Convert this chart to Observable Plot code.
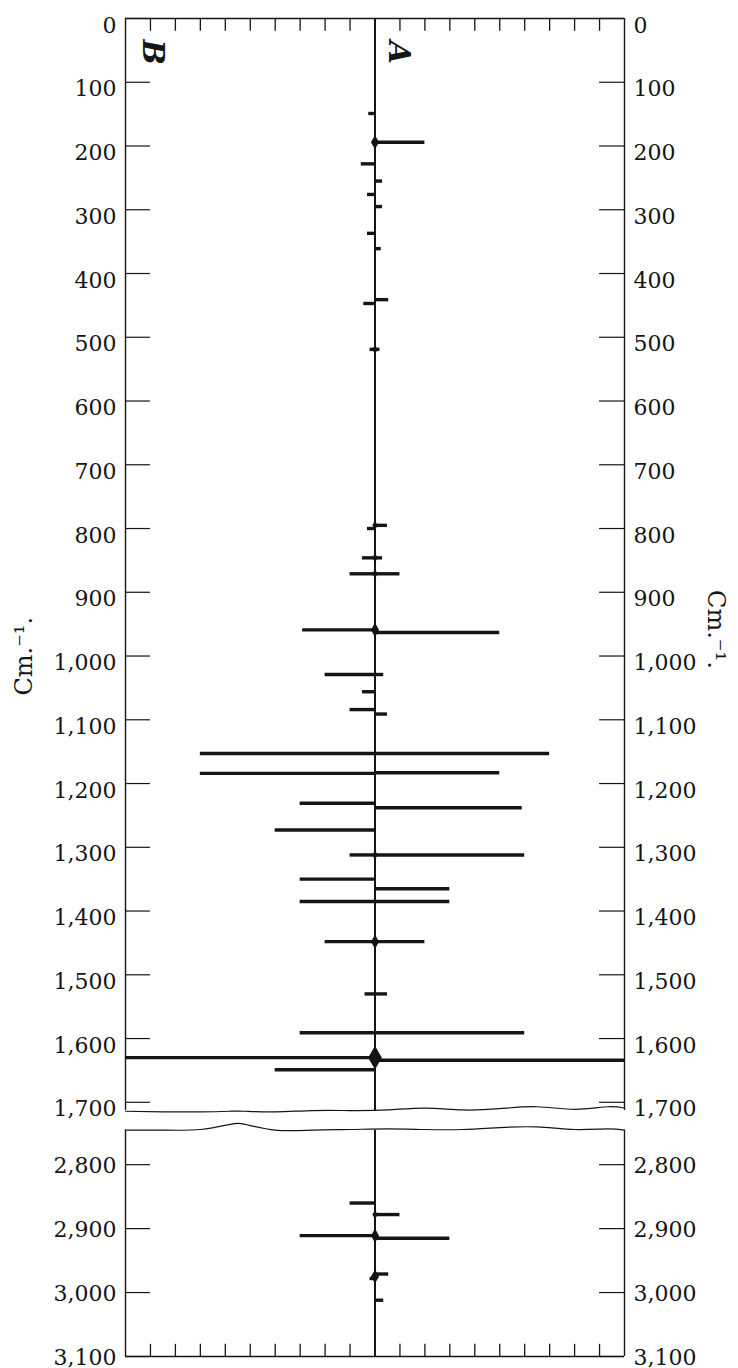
<!DOCTYPE html>
<html><head><meta charset="utf-8">
<script src="https://cdn.jsdelivr.net/npm/d3@7"></script>
<script src="https://cdn.jsdelivr.net/npm/@observablehq/plot@0.6"></script>
<style>
html,body{margin:0;padding:0;background:#fff;}
#chart svg{display:block;}
</style></head><body><div id="chart"></div>
<script>
// Series B (drawn to the left of the centre line)
const bWavenumbers = [149, 228, 276, 337, 447, 519, 800, 846, 871, 959, 1029, 1056, 1084, 1153, 1184, 1231, 1273, 1312, 1350, 1385, 1448, 1530, 1591, 1630, 1649, 2860, 2911, 2978];
const bIntensity   = [0.25, 0.55, 0.3, 0.3, 0.45, 0.2, 0.3, 0.5, 1.0, 2.9, 2.0, 0.5, 1.0, 7.0, 7.0, 3.0, 4.0, 1.0, 3.0, 3.0, 2.0, 0.4, 3.0, 10, 4.0, 1.0, 3.0, 0.2];
// Series A (drawn to the right of the centre line)
const aWavenumbers = [194, 255, 295, 361, 441, 519, 795, 846, 871, 963, 1029, 1091, 1153, 1183, 1238, 1312, 1365, 1385, 1448, 1530, 1591, 1634, 2878, 2915, 2971, 3012];
const aIntensity   = [2.0, 0.3, 0.3, 0.25, 0.55, 0.2, 0.5, 0.3, 1.0, 5.0, 0.35, 0.5, 7.0, 5.0, 5.9, 6.0, 3.0, 3.0, 2.0, 0.5, 6.0, 10, 1.0, 3.0, 0.55, 0.35];
// Lines marked with a diamond at the centre, and its weight
const diamondWavenumbers = [194, 519, 795, 846, 871, 959, 1312, 1448, 1630, 2878, 2911, 2975];
const diamondLevel       = [2, 1, 1, 1, 1, 2, 1, 2, 4, 1, 2, 2];
// Axis ticks
const upperTicks = [0, 100, 200, 300, 400, 500, 600, 700, 800, 900, 1000, 1100, 1200, 1300, 1400, 1500, 1600, 1700];
const lowerTicks = [2800, 2900, 3000, 3100];
const intensityTicks = [-9, -8, -7, -6, -5, -4, -3, -2, -1, 1, 2, 3, 4, 5, 6, 7, 8, 9];
const sideLabels = ["B", "A"];
const axisTitle = "Cm.\u207B\u00B9.";
// Broken-axis edges (wavy cut lines)
const breakX     = [-10, -8.5, -7, -5.8, -5.2, -4, -2.5, -1, 0.5, 2, 3.5, 5, 6.5, 8, 9.3, 10];
const upperBreak = [1714, 1715, 1715, 1714, 1714, 1715, 1713, 1713, 1712, 1709, 1712, 1710, 1707, 1711, 1707, 1709];
const lowerBreak = [2746, 2746, 2745, 2737, 2737, 2746, 2746, 2745, 2744, 2745, 2745, 2742, 2741, 2745, 2744, 2746];

const font = "'DejaVu Serif', serif";
const ink = "#151515";
const fmt = d3.format(",");

const bars = [
  ...bWavenumbers.map((w, i) => ({w, v: -bIntensity[i]})),
  ...aWavenumbers.map((w, i) => ({w, v: aIntensity[i]}))
];
const diamonds = diamondWavenumbers.map((w, i) => ({w, level: diamondLevel[i]}));
const breakUpper = breakX.map((x, i) => ({x, y: upperBreak[i]}));
const breakLower = breakX.map((x, i) => ({x, y: lowerBreak[i]}));

function panel(cfg) {
  const [lo, hi] = cfg.domain;
  const inRange = d => d.w >= lo && d.w <= hi;
  return Plot.plot({
    width: 738,
    height: cfg.height,
    marginLeft: 125,
    marginRight: 114,
    marginTop: cfg.marginTop,
    marginBottom: cfg.marginBottom,
    style: {fontFamily: font, fontSize: "22px", color: ink, background: "white", overflow: "visible"},
    x: {domain: [-10, 10], axis: null},
    y: {domain: cfg.domain, reverse: true},
    r: {type: "linear", domain: [1, 4], range: [2.8, 7.2]},
    marks: [
      Plot.ruleX([-10, 10], {y1: cfg.frameTop, y2: cfg.frameBottom, stroke: ink, strokeWidth: 1.4}),
      Plot.ruleY([cfg.edge], {x1: -10, x2: 10, stroke: ink, strokeWidth: 1.4}),
      Plot.ruleX(intensityTicks, {y1: cfg.edge, y2: cfg.edgeTickEnd, stroke: ink, strokeWidth: 1.3}),
      Plot.ruleY(cfg.ticks, {x1: -10, x2: -9, stroke: ink, strokeWidth: 1.2}),
      Plot.ruleY(cfg.ticks, {x1: 9, x2: 10, stroke: ink, strokeWidth: 1.2}),
      Plot.line(cfg.breakLine, {x: "x", y: "y", curve: "natural", stroke: ink, strokeWidth: 1.2}),
      Plot.ruleX([0], {y1: cfg.frameTop, y2: cfg.frameBottom, stroke: ink, strokeWidth: 2}),
      Plot.ruleY(bars.filter(inRange), {y: "w", x1: 0, x2: "v", stroke: ink, strokeWidth: 3.4}),
      Plot.dot(diamonds.filter(inRange), {x: 0, y: "w", r: "level", symbol: "diamond", fill: ink, stroke: "none"}),
      Plot.axisY(cfg.ticks, {anchor: "left", tickSize: 0, tickPadding: 9, tickFormat: fmt, label: null, dy: cfg.labelDy, fill: ink}),
      Plot.axisY(cfg.ticks, {anchor: "right", tickSize: 0, tickPadding: 9, tickFormat: fmt, label: null, dy: cfg.labelDy, fill: ink}),
      ...(cfg.extra || [])
    ]
  });
}

const upper = panel({
  domain: [0, 1716], height: 1120, marginTop: 18, marginBottom: 8,
  ticks: upperTicks, frameTop: 0, frameBottom: 1713, edge: 0, edgeTickEnd: 20,
  breakLine: breakUpper, labelDy: 7,
  extra: [
    Plot.text([sideLabels[0]], {x: -8.92, y: 53, text: d => d, rotate: 90, fontSize: 30, fontStyle: "italic", fontWeight: "bold", fill: ink}),
    Plot.text([sideLabels[1]], {x: 0.94, y: 53, text: d => d, rotate: 90, fontSize: 30, fontStyle: "italic", fontWeight: "bold", fill: ink}),
    Plot.text([axisTitle], {frameAnchor: "left", y: 1062, dx: -101, text: d => d, rotate: -90, fontSize: 24, fill: ink}),
    Plot.text([axisTitle], {frameAnchor: "right", y: 1020, dx: 91, text: d => d, rotate: 90, fontSize: 24, fill: ink})
  ]
});

const lower = panel({
  domain: [2745, 3100], height: 248, marginTop: 9, marginBottom: 12,
  ticks: lowerTicks, frameTop: 2746, frameBottom: 3100, edge: 3100, edgeTickEnd: 3081,
  breakLine: breakLower, labelDy: 1
});

const root = document.getElementById("chart");
root.appendChild(upper);
root.appendChild(lower);
</script>
</body></html>
